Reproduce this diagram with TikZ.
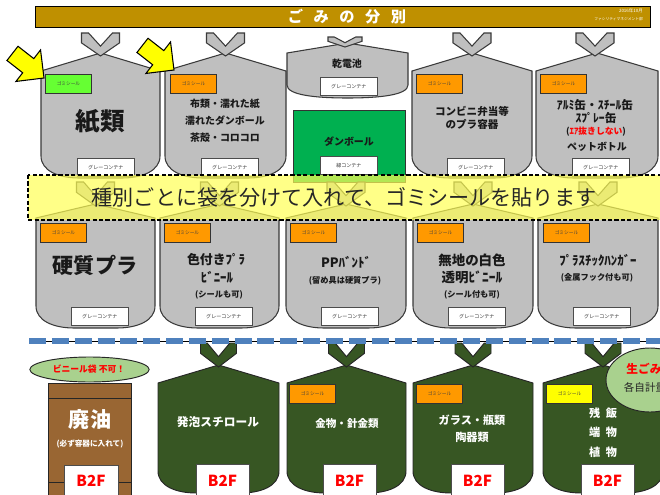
\documentclass[tikz,border=0pt]{standalone}
\usepackage{fontspec}
\setmainfont{Noto Sans CJK JP}
\usetikzlibrary{shapes.geometric}
\definecolor{titlegold}{HTML}{BF9000}
\definecolor{baggray}{HTML}{BFBFBF}
\definecolor{bagline}{HTML}{3A3A3A}
\definecolor{sealorange}{HTML}{FF9900}
\definecolor{sealgreen}{HTML}{66FF33}
\definecolor{sealyellow}{HTML}{FFFF00}
\definecolor{boxgreen}{HTML}{00B050}
\definecolor{darkgreen}{HTML}{375623}
\definecolor{oilbrown}{HTML}{996633}
\definecolor{palegreen}{HTML}{A9D18E}
\definecolor{dashblue}{HTML}{4F81BD}
\definecolor{banneryellow}{HTML}{FFFF55}
\definecolor{arrowyellow}{HTML}{FFFF00}
\newcommand{\fs}[1]{\fontsize{#1}{#1}\selectfont}
% bag: style, L, R, ycorner, yapex, ybottom
\newcommand{\bagshape}[6]{%
 \path[#1] (#2,#4) -- ({(#2+#3)/2},#5) -- (#3,#4) -- (#3,{#6-22})
   .. controls (#3,{#6-7}) and ({#3-18},#6) .. ({#3-38},#6) -- ({#2+38},#6)
   .. controls ({#2+18},#6) and (#2,{#6-7}) .. (#2,{#6-22}) -- cycle;}
% chevron: style, cx, top, height, halfwidth
\newcommand{\chev}[5]{%
 \path[#1] ({#2-#5},#3) -- ({#2-0.63*#5},#3) -- (#2,{#3+0.57*#4}) -- ({#2+0.63*#5},#3)
   -- ({#2+#5},#3) -- ({#2+#5},{#3+0.43*#4}) -- (#2,{#3+#4}) -- ({#2-#5},{#3+0.43*#4}) -- cycle;}
% yellow block arrow: tip x, tip y
\newcommand{\yarrow}[2]{%
 \begin{scope}[shift={(#1,#2)}, rotate=-38]
 \path[yarrowst] (0,0) -- (-20,20) -- (-20,9) -- (-40,9) -- (-40,-9) -- (-20,-9) -- (-20,-20) -- cycle;
 \end{scope}}
\begin{document}
\begin{tikzpicture}[x=0.03cm,y=-0.03cm,
  graybag/.style={fill=baggray, draw=bagline, line width=0.9pt},
  greenbag/.style={fill=darkgreen, draw=black!85, line width=0.8pt},
  yarrowst/.style={fill=arrowyellow, draw=black, line width=0.9pt, line join=miter},
  seal/.style={draw=black!80, line width=0.8pt, minimum width=1.38cm, minimum height=0.57cm,
    inner sep=0pt, anchor=north west, font=\fs{4}, text=black!75},
  contbox/.style={draw=black!70, fill=white, line width=0.6pt, minimum width=1.71cm,
    minimum height=0.54cm, inner sep=0pt, anchor=north west, font=\fs{4.3}, text=black!80},
  bt/.style={font=\fs{#1}\bfseries, inner sep=0pt, text=black!90},
  wt/.style={font=\fs{#1}\bfseries, inner sep=0pt, text=white},
  b2fbox/.style={draw=black!70, fill=white, line width=0.6pt},
  b2ftext/.style={font=\fs{13}\bfseries, text=red, inner sep=0pt}]
\useasboundingbox (0,0) rectangle (660,494);
\clip (0,0) rectangle (660,494);
\fill[white] (0,0) rectangle (660,494);

% ---------- title ----------
\draw[fill=titlegold, line width=0.8pt] (35,6) rectangle (650,27);
\node[wt=13] (title) at (347,16.5) {ご\hspace{9pt}み\hspace{9pt}の\hspace{9pt}分\hspace{9pt}別};
\node[font=\fs{3.8}, text=white, anchor=east, inner sep=0pt] (date) at (643,11) {2016年10月};
\node[font=\fs{3.2}, text=white, anchor=east, inner sep=0pt] (dept) at (643,19) {ファシリティマネジメント部};

% ---------- row 1 ----------
\bagshape{graybag}{41}{160}{71}{53}{178}
\chev{graybag}{100.5}{33}{23}{19}
\bagshape{graybag}{165}{286}{71}{53}{178}
\chev{graybag}{225.5}{33}{23}{19}
\bagshape{graybag}{412}{532}{71}{53}{178}
\chev{graybag}{472}{33}{23}{19}
\bagshape{graybag}{536}{658}{71}{53}{178}
\chev{graybag}{595}{33}{23}{19}
% battery bag
\path[graybag] (287,53) -- (347.5,43) -- (408,53) -- (408,85) .. controls (408,95) and (380,98) .. (347.5,98)
  .. controls (315,98) and (287,95) .. (287,85) -- cycle;
\chev{graybag}{345}{37}{10}{17}
% cardboard box
\draw[fill=boxgreen, draw=black!80, line width=0.8pt] (293,110) rectangle (405,182);

\node[seal, fill=sealgreen] (s11) at (45,74) {ゴミシール};
\node[seal, fill=sealorange] (s12) at (170,74) {ゴミシール};
\node[seal, fill=sealorange] (s14) at (416,74) {ゴミシール};
\node[seal, fill=sealorange] (s15) at (540,74) {ゴミシール};

\node[contbox] (c11) at (77,158) {グレーコンテナ};
\node[contbox] (c12) at (201,158) {グレーコンテナ};
\node[contbox] (c13) at (320,77) {グレーコンテナ};
\node[contbox] (c13b) at (320,156) {緑コンテナ};
\node[contbox] (c14) at (447,158) {グレーコンテナ};
\node[contbox] (c15) at (572,158) {グレーコンテナ};

\node[bt=21] (t11) at (100,122) {紙類};
\node[bt=8.5] (t12a) at (225,104) {布類・濡れた紙};
\node[bt=8.5] (t12b) at (225,121) {濡れたダンボール};
\node[bt=8.5] (t12c) at (225,138) {茶殻・コロコロ};
\node[bt=8.5] (t13a) at (347,64) {乾電池};
\node[bt=8.5] (t13b) at (349,142) {ダンボール};
\node[bt=9] (t14a) at (472,111) {コンビニ弁当等};
\node[bt=9] (t14b) at (472,124) {のプラ容器};
\node[bt=10] (t15a) at (595,105) {ｱﾙﾐ缶・ｽﾁｰﾙ缶};
\node[bt=10] (t15b) at (596,118) {ｽﾌﾟﾚｰ缶};
\node[bt=7.5] (t15c) at (596,132) {(\textcolor{red}{ｴｱ抜きしない})};
\node[bt=8.5] (t15d) at (597,147) {ペットボトル};

% ---------- row 2 ----------
\bagshape{graybag}{36}{155}{218}{204}{328}
\chev{graybag}{95.5}{182}{24}{19}
\bagshape{graybag}{160}{279}{218}{204}{328}
\chev{graybag}{219.5}{182}{24}{19}
\bagshape{graybag}{286}{406}{218}{204}{328}
\chev{graybag}{346}{182}{24}{19}
\bagshape{graybag}{413}{533}{218}{204}{328}
\chev{graybag}{473}{182}{24}{19}
\bagshape{graybag}{538}{658}{218}{204}{328}
\chev{graybag}{598}{182}{24}{19}

\node[seal, fill=sealorange] (s21) at (40,223) {ゴミシール};
\node[seal, fill=sealorange] (s22) at (164,223) {ゴミシール};
\node[seal, fill=sealorange] (s23) at (290,223) {ゴミシール};
\node[seal, fill=sealorange] (s24) at (417,223) {ゴミシール};
\node[seal, fill=sealorange] (s25) at (543,223) {ゴミシール};

\node[contbox] (c21) at (71,307) {グレーコンテナ};
\node[contbox] (c22) at (195,307) {グレーコンテナ};
\node[contbox] (c23) at (321,307) {グレーコンテナ};
\node[contbox] (c24) at (448,307) {グレーコンテナ};
\node[contbox] (c25) at (573,307) {グレーコンテナ};

\node[bt=18] (t21) at (95,265) {硬質プラ};
\node[bt=11] (t22a) at (216,260) {色付きﾌﾟﾗ};
\node[bt=11] (t22b) at (217,277) {ﾋﾞﾆｰﾙ};
\node[bt=7] (t22c) at (219,295) {(シールも可)};
\node[bt=11] (t23a) at (346,262) {PPﾊﾞﾝﾄﾞ};
\node[bt=7] (t23b) at (345,281) {(留め具は硬質プラ)};
\node[bt=11.5] (t24a) at (472,260) {無地の白色};
\node[bt=11.5] (t24b) at (472,277) {透明ﾋﾞﾆｰﾙ};
\node[bt=7] (t24c) at (472,295) {(シール付も可)};
\node[bt=11] (t25a) at (598,260) {ﾌﾟﾗｽﾁｯｸﾊﾝｶﾞｰ};
\node[bt=7] (t25b) at (597,278) {(金属フック付も可)};

% ---------- arrows ----------
\yarrow{44}{78}
\yarrow{174}{70}

% ---------- banner ----------
\draw[fill=banneryellow, fill opacity=0.7, draw=black, line width=1.1pt, dash pattern=on 3.5pt off 2pt] (28,175) rectangle (664,220);
\node[font=\fs{18}, text=black!85, inner sep=0pt] (banner) at (344,197) {種別ごとに袋を分けて入れて、ゴミシールを貼ります};

% ---------- row 3 ----------
\node[ellipse, draw=black!85, line width=0.8pt, fill=palegreen, minimum width=3.58cm, minimum height=0.75cm, inner sep=0pt] (vinyl) at (89.5,369.5) {};
\node[font=\fs{7.5}\bfseries, text=red, inner sep=0pt] (vinyltext) at (89,369) {ビニール袋 不可！};

% oil container
\draw[fill=oilbrown, draw=black!85, line width=0.8pt] (48,383) rectangle (131,500);
\draw[black!85, line width=0.8pt] (48,398) -- (131,398);
\draw[black!85, line width=0.8pt] (48,482) -- (131,482);
\node[wt=18] (oil) at (90,420) {廃油};
\node[wt=6.5] (oilnote) at (90,444) {(必ず容器に入れて)};

\bagshape{greenbag}{158}{279}{383}{365}{493}
\chev{greenbag}{218.5}{343}{24}{18}
\bagshape{greenbag}{287}{406}{383}{365}{493}
\chev{greenbag}{346.5}{343}{24}{18}
\bagshape{greenbag}{413}{533}{383}{365}{493}
\chev{greenbag}{473}{343}{24}{18}
\bagshape{greenbag}{543}{663}{383}{365}{493}
\chev{greenbag}{603}{343}{24}{18}

\node[seal, fill=sealorange] (s32) at (289,384) {ゴミシール};
\node[seal, fill=sealorange] (s33) at (416,384) {ゴミシール};
\node[seal, fill=sealyellow] (s34) at (546,384) {ゴミシール};

\node[wt=10] (t31) at (218,422) {発泡スチロール};
\node[wt=9] (t32) at (347,423) {金物・針金類};
\node[wt=9.5] (t33a) at (472,420) {ガラス・瓶類};
\node[wt=9.5] (t33b) at (472,437) {陶器類};
\node[wt=9.5] (t34a) at (603,413) {残\hspace{0.5em}飯};
\node[wt=9.5] (t34b) at (603,432) {端\hspace{0.5em}物};
\node[wt=9.5] (t34c) at (603,452) {植\hspace{0.5em}物};

\draw[b2fbox] (64,465) rectangle (118,500);
\draw[b2fbox] (196,464) rectangle (249,500);
\draw[b2fbox] (323,464) rectangle (376,500);
\draw[b2fbox] (451,464) rectangle (504,500);
\draw[b2fbox] (581,464) rectangle (634,500);
\node[b2ftext] (b1) at (91,481) {B2F};
\node[b2ftext] (b2) at (222.5,481) {B2F};
\node[b2ftext] (b3) at (349.5,481) {B2F};
\node[b2ftext] (b4) at (477.5,481) {B2F};
\node[b2ftext] (b5) at (607.5,481) {B2F};

\node[ellipse, draw=black!85, line width=0.8pt, fill=palegreen, minimum width=2.64cm, minimum height=1.92cm, inner sep=0pt] (nama) at (650,380) {};
\node[font=\fs{10}\bfseries, text=red, inner sep=0pt] (namatext) at (644,369) {生ごみ};
\node[font=\fs{9}, text=black!85, inner sep=0pt] (keiryo) at (645,387) {各自計量};

% ---------- dashed divider ----------
\draw[black, line width=0.6pt] (29,341) -- (660,341);
\draw[dashblue, line width=4.3pt, dash pattern=on 14.5pt off 5pt] (29,341) -- (660,341);
\end{tikzpicture}
\end{document}
